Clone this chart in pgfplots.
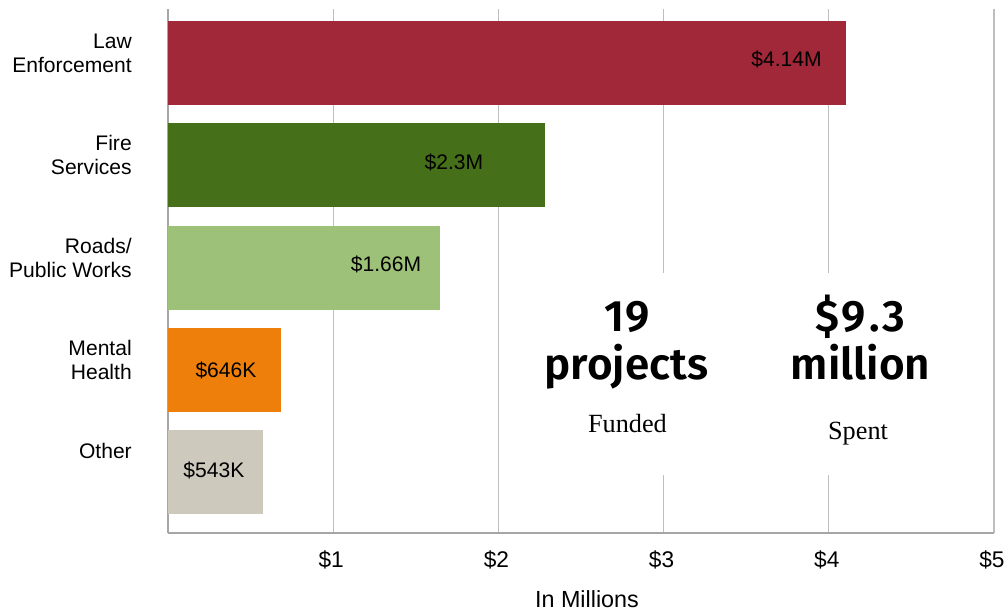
\documentclass[border=0pt]{standalone}
\usepackage{pgfplots}
\pgfplotsset{compat=1.18}
\usepackage{fontspec}
\setmainfont{Liberation Sans}
\newfontfamily\seriffont{Liberation Serif}
\newfontfamily\firafont[BoldFont={Fira Sans SemiBold}]{Fira Sans}
\definecolor{lawc}{RGB}{160,40,56}
\definecolor{firec}{RGB}{69,111,24}
\definecolor{roadc}{RGB}{157,193,121}
\definecolor{mentc}{RGB}{238,127,10}
\definecolor{othc}{RGB}{205,201,189}
\definecolor{gridc}{RGB}{190,190,190}
\definecolor{axc}{RGB}{166,166,166}
\begin{document}
\begin{tikzpicture}
\useasboundingbox (-126pt,-58.5pt) rectangle (630pt,399.75pt);
\begin{axis}[
  at={(0,0)}, anchor=south west,
  scale only axis, width=619.5pt, height=393pt,
  xmin=0, xmax=5, ymin=-0.591, ymax=4.527,
  axis x line*=bottom, axis y line*=left,
  x axis line style={draw=axc, line width=1.6pt, -},
  y axis line style={draw=axc, line width=0.9pt, -},
  xmajorgrids, major grid style={draw=gridc, line width=0.8pt},
  major tick length=0pt,
  xtick={1,2,3,4,5},
  xticklabels={\$1,\$2,\$3,\$4,\$5},
  ytick={0,1,2,3,4},
  yticklabels={{Other\\\phantom{Other}},{Mental\\Health},{Roads/\\Public Works},{Fire\\Services},{Law\\Enforcement}},
  xticklabel style={font=\fontsize{17}{20}\selectfont, anchor=base, inner sep=0pt, yshift=-25.5pt, xshift=-1.5pt},
  yticklabel style={font=\fontsize{15.8}{18}\selectfont, align=right, anchor=east, inner sep=0pt, xshift=-27pt, yshift=7.5pt},
  xlabel={In Millions},
  xlabel style={font=\fontsize{17.5}{20}\selectfont, at={(axis description cs:0.5,0)}, anchor=base, inner sep=0pt, yshift=-55.5pt, xshift=4.5pt},
]
\addplot[xbar, bar shift=0pt, bar width=63pt, fill=lawc, draw=none] coordinates {(4.104,4)};
\addplot[xbar, bar shift=0pt, bar width=63pt, fill=firec, draw=none] coordinates {(2.282,3)};
\addplot[xbar, bar shift=0pt, bar width=63pt, fill=roadc, draw=none] coordinates {(1.646,2)};
\addplot[xbar, bar shift=0pt, bar width=63pt, fill=mentc, draw=none] coordinates {(0.684,1)};
\addplot[xbar, bar shift=0pt, bar width=63pt, fill=othc, draw=none] coordinates {(0.575,0)};
% value labels
\begin{scope}[every node/.style={font=\fontsize{15.8}{18}\selectfont, anchor=base, inner sep=0pt}]
\node at (axis cs:3.744,3.961) {\$4.14M};
\node at (axis cs:1.731,2.955) {\$2.3M};
\node at (axis cs:1.320,1.961) {\$1.66M};
\node at (axis cs:0.351,0.930) {\$646K};
\node at (axis cs:0.278,-0.047) {\$543K};
\end{scope}
% white panel behind summary text
\fill[white] (axis cs:2.4,-0.024) rectangle (axis cs:4.8,1.949);
\begin{scope}[every node/.style={anchor=base, inner sep=0pt}]
\node[font=\firafont\bfseries\fontsize{33}{36}\selectfont] at (axis cs:2.781,1.375) {1\kern1pt9};
\node[font=\firafont\bfseries\fontsize{33}{36}\selectfont] at (axis cs:2.775,0.9035) {projects};
\node[font=\seriffont\fontsize{19.7}{22}\selectfont] at (axis cs:2.781,0.389) {Funded};
\node[font=\firafont\bfseries\fontsize{33}{36}\selectfont] at (axis cs:4.192,1.375) {\$\kern1.5pt9\kern2.5pt.\kern2.5pt3};
\node[font=\firafont\bfseries\fontsize{33}{36}\selectfont] at (axis cs:4.192,0.9035) {million};
\node[font=\seriffont\fontsize{19.7}{22}\selectfont] at (axis cs:4.177,0.327) {Spent};
\end{scope}
\end{axis}
\end{tikzpicture}
\end{document}
